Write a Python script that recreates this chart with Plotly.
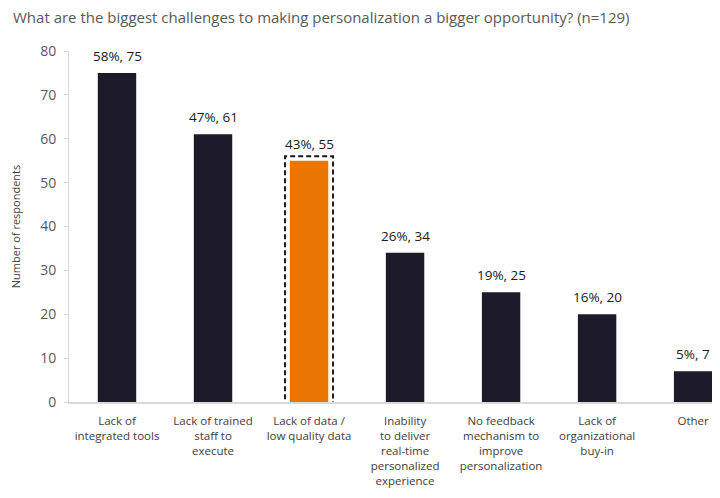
import plotly.graph_objects as go

title_text = "What are the biggest challenges to making personalization a bigger opportunity? (n=129)"
categories = [
    "Lack of<br>integrated tools",
    "Lack of trained<br>staff to<br>execute",
    "Lack of data /<br>low quality data",
    "Inability<br>to deliver<br>real-time<br>personalized<br>experience",
    "No feedback<br>mechanism to<br>improve<br>personalization",
    "Lack of<br>organizational<br>buy-in",
    "Other",
]
counts = [75, 61, 55, 34, 25, 20, 7]
percents = [58, 47, 43, 26, 19, 16, 5]
highlight_index = 2

dark = "#1d1a2a"
orange = "#ea7500"
colors = [orange if i == highlight_index else dark for i in range(len(counts))]
labels = [f"{p}%, {c}" for p, c in zip(percents, counts)]
xs = list(range(len(categories)))

fig = go.Figure()
fig.add_trace(go.Bar(
    x=xs, y=counts, marker=dict(color=colors, line=dict(width=0)),
    width=0.4, hoverinfo="skip",
))

for x, c, lab in zip(xs, counts, labels):
    fig.add_annotation(x=x, y=c, xref="x", yref="y", text=lab, showarrow=False,
                       yanchor="bottom", yshift=6,
                       font=dict(family="Open Sans", size=13.5, color="#1a1a1a"))

# title as a paper-positioned annotation
fig.add_annotation(xref="paper", yref="paper", x=-0.089, y=1.097, xanchor="left", yanchor="middle",
                   text=title_text, showarrow=False,
                   font=dict(family="Open Sans", size=15, color="#595959"))

hx = xs[highlight_index]
fig.add_shape(type="rect", xref="x", yref="y",
              x0=hx - 0.25, x1=hx + 0.25, y0=-1.0, y1=counts[highlight_index] + 1.0,
              line=dict(color="#1a1a1a", width=2, dash="5px,3px"), fillcolor="rgba(0,0,0,0)",
              layer="above")

# page body has an 8px margin, so the figure is offset by 8px in the window
fig.update_layout(
    width=712, height=490,
    margin=dict(l=61, r=0, t=43, b=96, autoexpand=False),
    plot_bgcolor="white", paper_bgcolor="white",
    showlegend=False,
    font=dict(family="Open Sans", color="#595959"),
    xaxis=dict(
        range=[-0.5, 6.28], tickmode="array", tickvals=xs, ticktext=categories,
        showline=True, linecolor="#d9d9d9", linewidth=2, ticks="", showgrid=False,
        ticklabelstandoff=7,
        tickfont=dict(family="Open Sans", size=11.5, color="#404040"), zeroline=False,
    ),
    yaxis=dict(
        range=[0, 80], dtick=10, showline=True, linecolor="#d9d9d9", linewidth=1,
        ticks="outside", ticklen=4, tickcolor="#d9d9d9", showgrid=False, zeroline=False,
        ticklabelstandoff=5,
        tickfont=dict(family="Open Sans", size=14, color="#595959"),
        title=dict(text="Number of respondents", standoff=22,
                   font=dict(family="Open Sans", size=11, color="#404040")),
    ),
)

fig.write_html("out.html")
